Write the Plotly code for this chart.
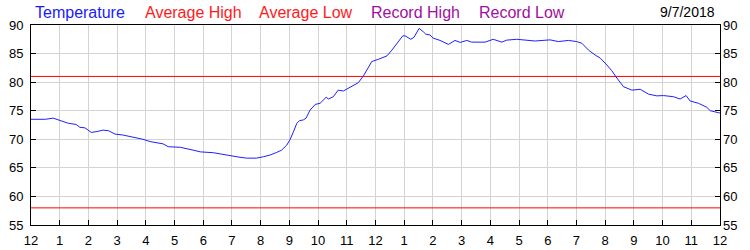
import plotly.graph_objects as go

# Hours after midnight and temperature (°F)
hours = [0.0, 0.5, 0.77, 1.0, 1.3, 1.57, 1.7, 1.88, 2.1, 2.3, 2.5, 2.7, 2.93, 3.2, 3.56, 3.9,
         4.15, 4.6, 4.78, 5.2, 5.65, 5.9, 6.35, 6.6, 6.93, 7.28, 7.51, 7.86, 8.1, 8.33, 8.56,
         8.73, 8.91, 9.02, 9.14, 9.26, 9.35, 9.49, 9.58, 9.72, 9.9, 10.07, 10.28, 10.36, 10.53,
         10.7, 10.88, 11.06, 11.23, 11.4, 11.58, 11.75, 11.87, 12.1, 12.28, 12.4, 12.57, 12.74,
         12.95, 13.03, 13.23, 13.34, 13.52, 13.67, 13.75, 13.9, 14.01, 14.25, 14.54, 14.77,
         14.95, 15.18, 15.35, 15.82, 16.1, 16.4, 16.57, 16.92, 17.56, 18.08, 18.37, 18.72,
         19.01, 19.19, 19.42, 19.65, 19.83, 20.06, 20.23, 20.41, 20.64, 20.93, 21.22, 21.51,
         21.8, 22.03, 22.38, 22.61, 22.82, 22.96, 23.25, 23.54, 23.66, 23.95, 24.0]
temps = [73.5, 73.5, 73.7, 73.25, 72.8, 72.6, 72.1, 72.0, 71.2, 71.35, 71.6, 71.5, 70.9, 70.75,
         70.4, 70.0, 69.6, 69.2, 68.7, 68.6, 68.1, 67.8, 67.65, 67.4, 67.15, 66.85, 66.7, 66.7,
         66.95, 67.25, 67.7, 68.1, 69.0, 69.9, 71.3, 72.8, 73.25, 73.4, 73.7, 75.1, 76.1, 76.3,
         77.35, 77.05, 77.45, 78.6, 78.45, 79.0, 79.5, 79.9, 81.1, 82.7, 83.6, 84.0, 84.35,
         84.6, 85.6, 86.7, 88.1, 88.1, 87.5, 87.85, 89.4, 88.8, 88.4, 88.25, 87.7, 87.3, 86.6,
         87.3, 86.95, 87.3, 87.0, 87.0, 87.5, 87.0, 87.35, 87.5, 87.2, 87.4, 87.1, 87.3, 87.1,
         86.8, 85.6, 84.75, 84.2, 83.0, 82.0, 80.7, 79.2, 78.6, 78.75, 77.9, 77.6, 77.65, 77.45,
         77.05, 77.65, 76.7, 76.3, 75.6, 75.0, 74.65, 74.6]

avg_high = 81
avg_low = 58
date_label = "9/7/2018"

tick_vals = list(range(0, 25))
tick_text = ["12"] + [str(i) for i in range(1, 12)] + ["12"] + [str(i) for i in range(1, 12)] + ["12"]
y_ticks = [55, 60, 65, 70, 75, 80, 85, 90]

legend_items = [("Temperature", "#1a1aff"), ("Average High", "#ff1a1a"),
                ("Average Low", "#ff1a1a"), ("Record High", "#a010a0"),
                ("Record Low", "#a010a0")]

FONT = "Liberation Sans, Arial, sans-serif"

fig = go.Figure()
fig.add_trace(go.Scatter(x=[0, 24], y=[avg_high, avg_high], mode="lines",
                         line=dict(color="#ff0000", width=1), showlegend=False, hoverinfo="skip"))
fig.add_trace(go.Scatter(x=[0, 24], y=[avg_low, avg_low], mode="lines",
                         line=dict(color="#ff0000", width=1), showlegend=False, hoverinfo="skip"))
fig.add_trace(go.Scatter(x=hours, y=temps, mode="lines",
                         line=dict(color="#1f1fff", width=1), showlegend=False))
# invisible trace for right axis
fig.add_trace(go.Scatter(x=[0], y=[55], yaxis="y2", mode="markers",
                         marker=dict(opacity=0), showlegend=False, hoverinfo="skip"))

axis_common = dict(showline=True, linecolor="black", linewidth=1, mirror=True,
                   ticks="inside", ticklen=5, tickcolor="black", automargin=False,
                   showgrid=True, gridcolor="#d3d3d3", gridwidth=1, zeroline=False,
                   tickfont=dict(family=FONT, size=13, color="black"))

fig.update_layout(
    width=750, height=250,
    margin=dict(l=31, r=30, t=25, b=25),
    paper_bgcolor="white", plot_bgcolor="white",
    showlegend=False,
    xaxis=dict(range=[0, 24], tickmode="array", tickvals=tick_vals, ticktext=tick_text,
               ticklabelstandoff=3, **axis_common),
    yaxis=dict(range=[55, 90], tickmode="array", tickvals=y_ticks, ticklabelstandoff=4,
               **axis_common),
    yaxis2=dict(range=[55, 90], overlaying="y", side="right", tickmode="array",
                tickvals=y_ticks, showgrid=False, showline=False, ticks="inside",
                ticklen=5, tickcolor="black", zeroline=False, ticklabelstandoff=2,
                automargin=False,
                tickfont=dict(family=FONT, size=13, color="black")),
)

legend_x = [0.0029, 0.1626, 0.328, 0.4906, 0.6473]
for (label, color), xp in zip(legend_items, legend_x):
    fig.add_annotation(text=label, xref="paper", yref="paper", x=xp, y=1.065,
                       xanchor="left", yanchor="middle", showarrow=False,
                       font=dict(family=FONT, size=16, color=color))
fig.add_annotation(text=date_label, xref="paper", yref="paper", x=0.9956, y=1.065,
                   xanchor="right", yanchor="middle", showarrow=False,
                   font=dict(family=FONT, size=14, color="black"))

fig.write_html("out.html")
